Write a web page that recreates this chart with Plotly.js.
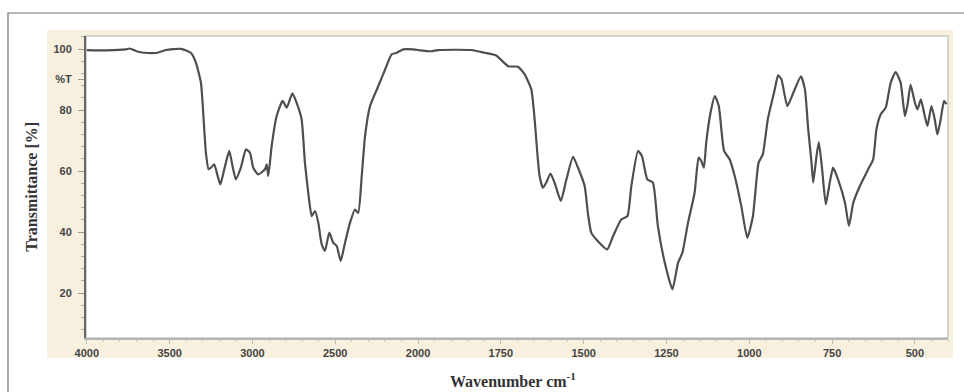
<!DOCTYPE html>
<html>
<head>
<meta charset="utf-8">
<script src="https://cdn.plot.ly/plotly-3.0.1.min.js"></script>
<style>
  html, body { margin: 0; padding: 0; background: #ffffff; }
  #chart { width: 964px; height: 392px; }
</style>
</head>
<body>
<div id="chart"></div>
<script>
// Wavenumber (cm-1), descending, and transmittance (%)
const wavenumber = [
  4000, 3880, 3764, 3740, 3700, 3654, 3573, 3523, 3432, 3372, 3341, 3311, 3301, 3291, 3281,
  3265, 3251, 3231, 3210, 3194, 3170, 3140, 3120, 3100, 3070, 3039, 3015, 2995, 2965, 2924,
  2914, 2904, 2884, 2854, 2818, 2793, 2759, 2733, 2703, 2683, 2663, 2642, 2622, 2602, 2582,
  2562, 2536, 2512, 2491, 2467, 2441, 2411, 2381, 2361, 2340, 2320, 2290, 2240, 2199, 2159,
  2129, 2089, 2028, 2000, 1960, 1940, 1839, 1799, 1764, 1728, 1698, 1678, 1658, 1648, 1640,
  1633, 1623, 1613, 1600, 1586, 1569, 1552, 1532, 1517, 1497, 1487, 1477, 1457, 1429, 1411,
  1386, 1368, 1356, 1336, 1324, 1308, 1291, 1276, 1255, 1232, 1215, 1202, 1185, 1165, 1153,
  1145, 1137, 1130, 1117, 1104, 1092, 1076, 1059, 1044, 1024, 1006, 989, 972, 959, 944,
  923, 913, 903, 885, 867, 844, 832, 822, 812, 807, 797, 790, 780, 769, 757,
  747, 732, 711, 699, 686, 666, 641, 626, 616, 603, 588, 573, 558, 543, 530,
  522, 513, 500, 492, 482, 470, 462, 450, 440, 432, 422, 412, 405
];
const transmittance = [
  99.7, 99.6, 99.9, 100.2, 99.3, 98.8, 98.8, 99.7, 100.1, 98.8, 95.5, 89, 82.4, 73.7, 66,
  60.6, 61.1, 62.2, 58.4, 55.6, 60.6, 66.6, 61.6, 57.3, 61.1, 67.1, 66, 61.1, 58.9, 60.6,
  62.2, 58.4, 68.2, 78, 83, 80.8, 85.5, 82.4, 77, 62.7, 52.9, 45.2, 46.9, 43, 36,
  33.8, 39.8, 36.5, 35.4, 30.5, 36.5, 43, 47.4, 46.3, 58.4, 71.5, 81.3, 87.9, 93.3, 98.3,
  98.8, 99.9, 99.9, 99.7, 99.3, 99.7, 99.7, 98.8, 97.9, 94.4, 94.2, 91.7, 86.8, 77, 66,
  58.4, 54.5, 56.2, 59.2, 55.6, 50.2, 57.3, 64.7, 61.1, 55.1, 46, 39.8, 37, 34.3, 38.7,
  44.2, 45.2, 55.1, 66.6, 64.9, 57.3, 56.2, 42, 29.9, 21.2, 29.9, 33.2, 43, 52.9, 64.4,
  63.3, 61.1, 69.3, 79.1, 84.6, 81.3, 66.6, 63.8, 58.4, 48.5, 38.1, 45.2, 62.7, 65.5, 77,
  86.8, 91.4, 90.1, 81.3, 85.7, 91.1, 86.8, 73.7, 62.7, 56.2, 64.9, 69.5, 60.6, 49.1, 56.2,
  61.1, 57.3, 49.6, 42, 49.6, 55.1, 60.6, 63.8, 73.7, 78.6, 80.8, 89, 92.5, 89, 78,
  81.9, 88.4, 82.4, 80.2, 83.5, 78, 74.8, 81.3, 77, 72, 77, 83, 81.9
];
// Axis ticks (the chart changes scale at 2000 cm-1)
const xTicksHigh = [4000, 3500, 3000, 2500];
const xTicksLow = [2000, 1750, 1500, 1250, 1000, 750, 500];
const yTickVals = [20, 40, 60, 80, 90, 100];
const yTickText = ['20', '40', '60', '80', '%T', '100'];
const scaleBreak = 2000;

const hiX = [], hiY = [], loX = [], loY = [];
for (let i = 0; i < wavenumber.length; i++) {
  if (wavenumber[i] >= scaleBreak) { hiX.push(wavenumber[i]); hiY.push(transmittance[i]); }
  if (wavenumber[i] <= scaleBreak) { loX.push(wavenumber[i]); loY.push(transmittance[i]); }
}

const lineStyle = { color: '#4e4e4e', width: 2.2, shape: 'spline', smoothing: 0.5 };
const traces = [
  { x: hiX, y: hiY, xaxis: 'x', yaxis: 'y', type: 'scatter', mode: 'lines', line: lineStyle, showlegend: false, hoverinfo: 'skip' },
  { x: loX, y: loY, xaxis: 'x2', yaxis: 'y', type: 'scatter', mode: 'lines', line: lineStyle, showlegend: false, hoverinfo: 'skip' }
];

const tickFont = { family: 'Liberation Sans, Arial, sans-serif', size: 11, color: '#444444', weight: 'bold' };
const titleFont = { family: 'Liberation Serif, Times New Roman, serif', size: 16, color: '#333333', weight: 'bold' };
const split = 0.3852;

const layout = {
  width: 964, height: 392,
  margin: { l: 86, r: 16, t: 36, b: 54 },
  paper_bgcolor: '#ffffff',
  plot_bgcolor: 'rgba(0,0,0,0)',
  showlegend: false,
  xaxis: {
    domain: [0, split], range: [4005, 2000], anchor: 'y',
    tickvals: xTicksHigh, ticks: 'outside', ticklen: 4, tickcolor: '#bbbbbb',
    minor: { dtick: 100, ticks: 'outside', ticklen: 2, tickcolor: '#cccccc' },
    showgrid: false, zeroline: false, showline: true, linecolor: '#b5b5b5', linewidth: 1.5,
    tickfont: tickFont
  },
  xaxis2: {
    domain: [split, 1], range: [2000, 400], anchor: 'y',
    tickvals: xTicksLow, ticks: 'outside', ticklen: 4, tickcolor: '#bbbbbb',
    minor: { dtick: 50, ticks: 'outside', ticklen: 2, tickcolor: '#cccccc' },
    showgrid: false, zeroline: false, showline: true, linecolor: '#b5b5b5', linewidth: 1.5,
    tickfont: tickFont
  },
  yaxis: {
    range: [5.25, 104.3], tickvals: yTickVals, ticktext: yTickText,
    ticks: 'outside', ticklen: 6, tickcolor: '#999999', ticklabelstandoff: 4,
    minor: { dtick: 4, ticks: 'outside', ticklen: 3, tickcolor: '#aaaaaa' },
    showgrid: false, zeroline: false, showline: true, linecolor: '#666666', linewidth: 2,
    tickfont: tickFont
  },
  shapes: [
    // beige instrument panel
    { type: 'rect', xref: 'paper', yref: 'paper', x0: -0.0452, x1: 1.0058, y0: -0.0662, y1: 1.0199,
      fillcolor: '#f8f0df', line: { width: 0 }, layer: 'below' },
    // white plotting area
    { type: 'rect', xref: 'paper', yref: 'paper', x0: 0, x1: 1, y0: 0, y1: 1,
      fillcolor: '#ffffff', line: { color: '#c8c8c8', width: 1.5 }, layer: 'below' },
    // outer figure border
    { type: 'rect', xref: 'paper', yref: 'paper', x0: -0.0905, x1: 1.1, y0: -0.3, y1: 1.0762,
      fillcolor: 'rgba(0,0,0,0)', line: { color: '#707070', width: 1.2 }, layer: 'below' }
  ],
  annotations: [
    { text: 'Transmittance [%]', xref: 'paper', yref: 'paper', x: -0.064, y: 0.5,
      textangle: -90, showarrow: false, xanchor: 'center', yanchor: 'middle',
      font: titleFont },
    { text: 'Wavenumber cm<sup>-1</sup>', xref: 'paper', yref: 'paper', x: 0.495, y: -0.139,
      showarrow: false, xanchor: 'center', yanchor: 'middle',
      font: titleFont }
  ]
};

Plotly.newPlot('chart', traces, layout, { staticPlot: true, displayModeBar: false });
</script>
</body>
</html>
